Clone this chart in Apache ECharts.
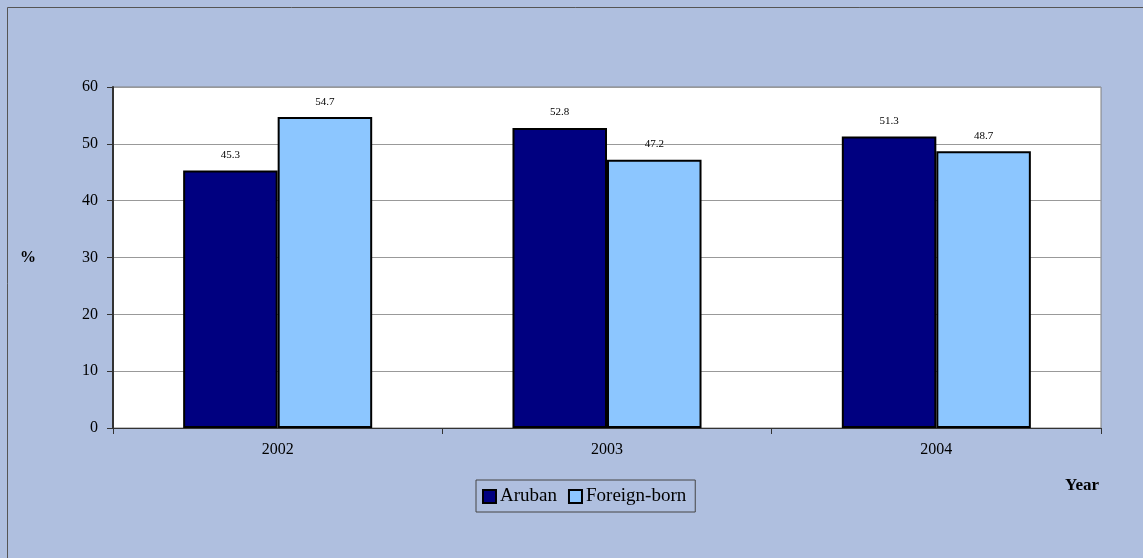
<!DOCTYPE html>
<html><head><meta charset="utf-8">
<script src="https://cdn.jsdelivr.net/npm/echarts@6/dist/echarts.min.js"></script>
<style>html,body{margin:0;padding:0;background:#AFBFDF}#c{width:1143px;height:558px}</style>
</head><body><div id="c"></div>
<script>
const categories = ['2002', '2003', '2004'];
const aruban = [45.3, 52.8, 51.3];
const foreignBorn = [54.7, 47.2, 48.7];
const yTicks = [0, 10, 20, 30, 40, 50, 60];

const F = '"Liberation Serif", "Times New Roman", serif';
const chart = echarts.init(document.getElementById('c'), null, {renderer: 'canvas'});
const lbl = {show: true, position: 'top', distance: 10, fontFamily: F, fontSize: 11, color: '#000', formatter: p => p.value.toFixed(1)};
chart.setOption({
  backgroundColor: '#AFBFDF',
  animation: false,
  graphic: [
    {type: 'rect', shape: {x: 7.5, y: 7.5, width: 1160, height: 560}, style: {fill: 'none', stroke: '#555', lineWidth: 1}, silent: true, z: 0},
    {type: 'text', x: 1082, y: 486, style: {text: 'Year', font: 'bold 17px ' + F, fill: '#000', textAlign: 'center', textVerticalAlign: 'middle'}, silent: true}
  ],
  grid: {left: 113, right: 42, top: 87, bottom: 130, show: true, backgroundColor: '#fff', borderColor: '#808080', borderWidth: 1},
  legend: {
    data: ['Aruban', 'Foreign-born'], left: 476, top: 480, orient: 'horizontal',
    itemWidth: 13, itemHeight: 13, itemGap: 11, padding: [7, 9, 6, 6],
    borderColor: '#444', borderWidth: 1, backgroundColor: '#AFBFDF',
    textStyle: {fontFamily: F, fontSize: 19, color: '#000', padding: [0, 0, 0, -1]},
    icon: 'rect'
  },
  xAxis: {
    type: 'category', data: categories,
    axisLine: {lineStyle: {color: '#333', width: 1}},
    axisTick: {show: true, length: 6, lineStyle: {color: '#333'}},
    axisLabel: {fontFamily: F, fontSize: 16, color: '#000', margin: 14},
    splitLine: {show: false}
  },
  yAxis: {
    type: 'value', min: 0, max: 60, interval: 10,
    name: '%', nameLocation: 'middle', nameGap: 77, nameRotate: 0,
    nameTextStyle: {fontFamily: F, fontSize: 16, fontWeight: 'bold', color: '#000'},
    axisLine: {show: true, lineStyle: {color: '#333', width: 2}},
    axisTick: {show: true, length: 6, lineStyle: {color: '#333'}},
    axisLabel: {fontFamily: F, fontSize: 16, color: '#000', margin: 15, formatter: v => yTicks.includes(v) ? String(v) : ''},
    splitLine: {show: true, lineStyle: {color: '#999', width: 1}}
  },
  series: [
    {name: 'Aruban', type: 'bar', data: aruban, barGap: '0%', barCategoryGap: '42.6%',
     itemStyle: {color: '#000080', borderColor: '#000', borderWidth: 2}, label: lbl},
    {name: 'Foreign-born', type: 'bar', data: foreignBorn,
     itemStyle: {color: '#8CC6FF', borderColor: '#000', borderWidth: 2}, label: lbl}
  ]
});
</script></body></html>
